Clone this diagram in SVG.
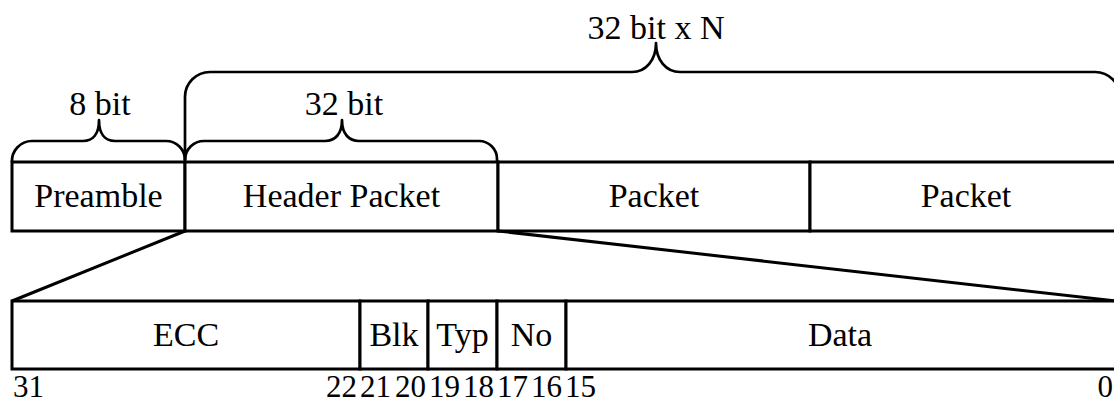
<svg xmlns="http://www.w3.org/2000/svg" width="1114" height="403" viewBox="0 0 1114 403">
  <style>
    .box { fill: #fff; stroke: #000; stroke-width: 3; }
    .line { fill: none; stroke: #000; stroke-width: 3; }
    .brace { fill: none; stroke: #000; stroke-width: 2.7; stroke-linejoin: round; }
    .lbl { font-family: "Liberation Serif", "Times New Roman", serif; font-size: 34px; fill: #000; text-anchor: middle; }
    .bit { font-family: "Liberation Serif", "Times New Roman", serif; font-size: 31px; fill: #000; }
    .end { text-anchor: end; }
  </style>
  <rect width="1114" height="403" fill="#fff"/>

  <!-- frame: preamble followed by packets -->
  <g id="preamble">
    <rect class="box" x="12" y="162" width="173" height="69"/>
    <text class="lbl" x="98.5" y="207">Preamble</text>
  </g>
  <g id="header-packet">
    <rect class="box" x="185" y="162" width="313" height="69"/>
    <text class="lbl" x="341.5" y="207">Header Packet</text>
  </g>
  <g id="packet-1">
    <rect class="box" x="498" y="162" width="312" height="69"/>
    <text class="lbl" x="654" y="207">Packet</text>
  </g>
  <g id="packet-2">
    <rect class="box" x="810" y="162" width="312" height="69"/>
    <text class="lbl" x="966" y="207">Packet</text>
  </g>

  <!-- header packet field layout -->
  <g id="field-ecc">
    <rect class="box" x="12" y="301" width="348" height="68"/>
    <text class="lbl" x="186" y="346">ECC</text>
  </g>
  <g id="field-blk">
    <rect class="box" x="360" y="301" width="68" height="68"/>
    <text class="lbl" x="394" y="346">Blk</text>
  </g>
  <g id="field-typ">
    <rect class="box" x="428" y="301" width="69" height="68"/>
    <text class="lbl" x="462.5" y="346">Typ</text>
  </g>
  <g id="field-no">
    <rect class="box" x="497" y="301" width="69" height="68"/>
    <text class="lbl" x="531.5" y="346">No</text>
  </g>
  <g id="field-data">
    <rect class="box" x="566" y="301" width="550" height="68"/>
    <text class="lbl" x="840" y="346">Data</text>
  </g>

  <!-- bit positions -->
  <g id="bit-numbers">
    <text class="bit" x="13" y="397">31</text>
    <text class="bit" x="326" y="397">22</text>
    <text class="bit" x="360" y="397">21</text>
    <text class="bit" x="395" y="397">20</text>
    <text class="bit" x="429" y="397">19</text>
    <text class="bit" x="463" y="397">18</text>
    <text class="bit" x="497" y="397">17</text>
    <text class="bit" x="531" y="397">16</text>
    <text class="bit" x="565" y="397">15</text>
    <text class="bit end" x="1113" y="397">0</text>
  </g>

  <!-- size braces -->
  <g id="brace-8bit">
    <path class="brace" d="M12,162 A20,20 0 0 1 32,141 H83 C93,141 99,134 99,120 C99,134 105,141 115,141 H166 A19,19 0 0 1 185,160"/>
    <text class="lbl" x="100" y="115">8 bit</text>
  </g>
  <g id="brace-32bit">
    <path class="brace" d="M185,160 A19,19 0 0 1 204,141 H325 C335,141 342,134 342,120 C342,134 349,141 359,141 H479 A18,18 0 0 1 497,159 V162"/>
    <text class="lbl" x="344" y="115">32 bit</text>
  </g>
  <g id="brace-32bitxN">
    <path class="brace" d="M185,162 V97 A25,25 0 0 1 210,72 H632 C646,72 656,60 656,43 C656,60 666,72 680,72 H1095 A25,25 0 0 1 1120,97 V162"/>
    <text class="lbl" x="656" y="39">32 bit x N</text>
  </g>

  <!-- expansion lines from header packet to its fields -->
  <g id="connectors">
    <line class="line" x1="185" y1="231" x2="12" y2="301"/>
    <line class="line" x1="498" y1="231" x2="1116" y2="301"/>
  </g>
</svg>
